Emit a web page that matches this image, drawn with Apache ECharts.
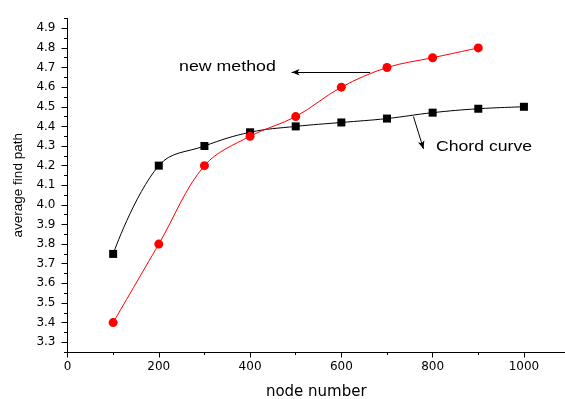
<!DOCTYPE html>
<html><head><meta charset="utf-8">
<script src="https://cdn.jsdelivr.net/npm/echarts@6/dist/echarts.min.js"></script>
<style>html,body{margin:0;padding:0;background:#fff}#c{width:565px;height:399px}</style>
</head><body><div id="c"></div>
<script>
// ---- data ----
const chordX = [100, 200, 300, 400, 500, 600, 700, 800, 900, 1000];
const chordY = [3.75, 4.20, 4.30, 4.37, 4.40, 4.42, 4.44, 4.47, 4.49, 4.50];
const newMethodX = [100, 200, 300, 400, 500, 600, 700, 800, 900];
const newMethodY = [3.40, 3.80, 4.20, 4.35, 4.45, 4.60, 4.70, 4.75, 4.80];
// ---- ticks ----
const xMajorTicks = [0, 200, 400, 600, 800, 1000];
const xMinorTicks = [100, 300, 500, 700, 900];
const yMajorTicks = [3.3, 3.4, 3.5, 3.6, 3.7, 3.8, 3.9, 4.0, 4.1, 4.2, 4.3, 4.4, 4.5, 4.6, 4.7, 4.8, 4.9];
const yMinorTicks = [3.25, 3.35, 3.45, 3.55, 3.65, 3.75, 3.85, 3.95, 4.05, 4.15, 4.25, 4.35, 4.45, 4.55, 4.65, 4.75, 4.85, 4.95];
// ---- annotations (data space) ----
const newMethodArrow = [[663, 4.676], [491, 4.676]];
const chordArrow = [[758, 4.45], [780, 4.285]];

const X_MIN = 0, X_MAX = 1090, Y_MIN = 3.25, Y_MAX = 4.95;
const gridPos = { left: 67.5, right: 0, top: 18.5, bottom: 47 };
const tickFont = { fontFamily: 'DejaVu Sans', fontSize: 12, color: '#000' };

const chart = echarts.init(document.getElementById('c'), null, { renderer: 'canvas' });

const zip = (xs, ys) => xs.map((x, i) => [x, ys[i]]);

chart.setOption({
  animation: false,
  backgroundColor: '#fff',
  grid: [
    Object.assign({ containLabel: false, outerBoundsMode: 'none' }, gridPos),
    Object.assign({ containLabel: false, outerBoundsMode: 'none' }, gridPos)
  ],
  xAxis: [
    {
      type: 'value', gridIndex: 0, min: X_MIN, max: X_MAX,
      name: 'node number', nameLocation: 'middle', nameGap: 33,
      nameTextStyle: { fontFamily: 'DejaVu Sans', fontSize: 15, color: '#000' },
      axisLine: { show: true, lineStyle: { color: '#000', width: 1 } },
      axisTick: { show: true, inside: false, length: 5.5, customValues: xMajorTicks, lineStyle: { color: '#000' } },
      axisLabel: Object.assign({ customValues: xMajorTicks, margin: 9, formatter: v => String(v) }, tickFont),
      splitLine: { show: false }
    },
    {
      type: 'value', gridIndex: 1, min: X_MIN, max: X_MAX,
      axisLine: { show: false },
      axisTick: { show: true, inside: false, length: 3, customValues: xMinorTicks, lineStyle: { color: '#000' } },
      axisLabel: { show: false },
      splitLine: { show: false }
    }
  ],
  yAxis: [
    {
      type: 'value', gridIndex: 0, min: Y_MIN, max: Y_MAX,
      name: 'average find path', nameLocation: 'middle', nameGap: 42, nameRotate: 90,
      nameTextStyle: { fontFamily: 'Liberation Sans', fontSize: 13.5, color: '#000' },
      axisLine: { show: true, lineStyle: { color: '#000', width: 1 } },
      axisTick: { show: true, inside: false, length: 6, customValues: yMajorTicks, lineStyle: { color: '#000' } },
      axisLabel: Object.assign({ customValues: yMajorTicks, margin: 12, formatter: v => v.toFixed(1) }, tickFont),
      splitLine: { show: false }
    },
    {
      type: 'value', gridIndex: 1, min: Y_MIN, max: Y_MAX,
      axisLine: { show: false },
      axisTick: { show: true, inside: false, length: 3.5, customValues: yMinorTicks, lineStyle: { color: '#000' } },
      axisLabel: { show: false },
      splitLine: { show: false }
    }
  ],
  series: [
    {
      name: 'Chord curve', type: 'line', xAxisIndex: 0, yAxisIndex: 0,
      data: zip(chordX, chordY), smooth: 0.4,
      symbol: 'rect', symbolSize: 8,
      lineStyle: { color: '#000', width: 1 }, itemStyle: { color: '#000' },
      markLine: {
        silent: true, symbol: ['none', 'arrow'], symbolSize: [5, 8],
        label: { show: false },
        lineStyle: { color: '#000', width: 1, type: 'solid' },
        data: [[{ coord: chordArrow[0] }, { coord: chordArrow[1] }]]
      },
      z: 3
    },
    {
      name: 'new method', type: 'line', xAxisIndex: 0, yAxisIndex: 0,
      data: zip(newMethodX, newMethodY), smooth: 0.35,
      symbol: 'circle', symbolSize: 9,
      lineStyle: { color: '#ff0000', width: 1 }, itemStyle: { color: '#ff0000' },
      markLine: {
        silent: true, symbol: ['none', 'arrow'], symbolSize: [5, 8],
        label: { show: false },
        lineStyle: { color: '#000', width: 1, type: 'solid' },
        data: [[{ coord: newMethodArrow[0] }, { coord: newMethodArrow[1] }]]
      },
      z: 4
    }
  ],
  graphic: [
    {
      type: 'text', x: 179, y: 67, scaleX: 1.27,
      style: { text: 'new method', font: '14px "Liberation Sans"', fill: '#000', verticalAlign: 'middle', align: 'left' }
    },
    {
      type: 'text', x: 436, y: 147.5, scaleX: 1.26,
      style: { text: 'Chord curve', font: '14px "Liberation Sans"', fill: '#000', verticalAlign: 'middle', align: 'left' }
    }
  ]
});
</script>
</body></html>
